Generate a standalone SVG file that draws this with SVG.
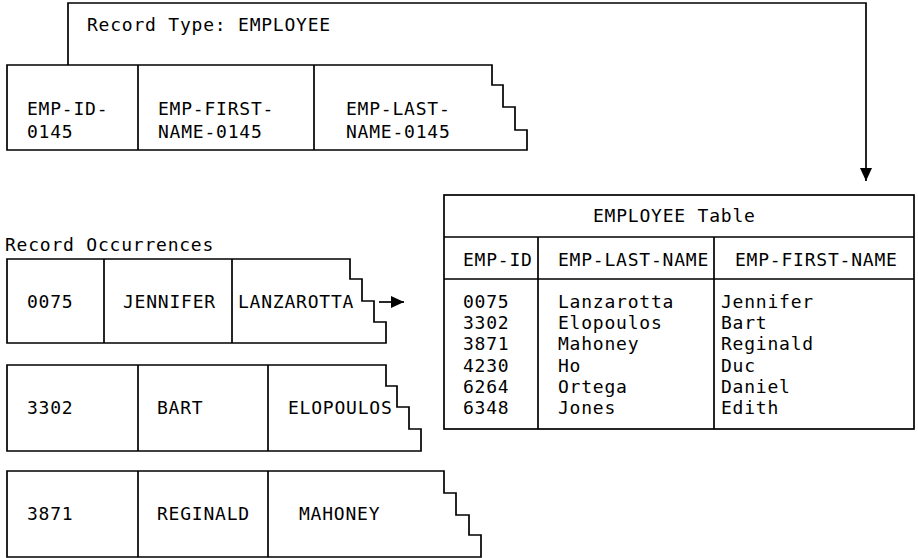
<svg xmlns="http://www.w3.org/2000/svg" width="918" height="558" viewBox="0 0 918 558">
<style>
text{font-family:"DejaVu Sans Mono","Liberation Mono",monospace;font-size:18px;letter-spacing:0.78px;fill:#000}
.ln{fill:none;stroke:#000;stroke-width:1.7;stroke-linejoin:miter}
.bx{fill:#fff;stroke:#000;stroke-width:1.7}
</style>
<defs>
<marker id="ah" markerUnits="userSpaceOnUse" markerWidth="13" markerHeight="12" refX="13" refY="6" orient="auto">
<path d="M0,0 L13,6 L0,12 Z" fill="#000"/>
</marker>
</defs>
<rect width="918" height="558" fill="#fff"/>

<g id="connectors">
<path class="ln" d="M68,65 V3 H866 V181" marker-end="url(#ah)"/>
<path class="ln" d="M379,302 H404" marker-end="url(#ah)"/>
</g>

<g id="record-type">
<text x="87" y="31">Record Type: EMPLOYEE</text>
<path class="ln" d="M7,65 H492 V85 H503 V107 H515 V130 H527 V150 H7 Z"/>
<path class="ln" d="M138,65 V150 M314,65 V150"/>
<text x="27" y="115">EMP-ID-</text>
<text x="27" y="138">0145</text>
<text x="158" y="115">EMP-FIRST-</text>
<text x="158" y="138">NAME-0145</text>
<text x="346" y="115">EMP-LAST-</text>
<text x="346" y="138">NAME-0145</text>
</g>

<g id="occurrences-label">
<text x="5" y="251">Record Occurrences</text>
</g>

<g id="occ-0075">
<path class="ln" d="M7,259 H350 V279 H362 V301 H374 V322 H386 V343 H7 Z"/>
<path class="ln" d="M104,259 V343 M232,259 V343"/>
<text x="27" y="308">0075</text>
<text x="123" y="308">JENNIFER</text>
<text x="238" y="308">LANZAROTTA</text>
</g>

<g id="occ-3302">
<path class="ln" d="M7,365 H386 V386 H397 V407 H409 V429 H421 V451 H7 Z"/>
<path class="ln" d="M138,365 V451 M268,365 V451"/>
<text x="27" y="414">3302</text>
<text x="157" y="414">BART</text>
<text x="288" y="414">ELOPOULOS</text>
</g>

<g id="occ-3871">
<path class="ln" d="M7,471 H444 V493 H456 V515 H469 V535 H481 V557 H7 Z"/>
<path class="ln" d="M138,471 V557 M268,471 V557"/>
<text x="27" y="520">3871</text>
<text x="157" y="520">REGINALD</text>
<text x="299" y="520">MAHONEY</text>
</g>

<g id="employee-table">
<rect class="bx" x="444" y="195" width="470" height="234"/>
<path class="ln" d="M444,237 H914 M444,279 H914 M538,237 V429 M714,237 V429"/>
<text x="593" y="222">EMPLOYEE Table</text>
<text x="463" y="266">EMP-ID</text>
<text x="558" y="266">EMP-LAST-NAME</text>
<text x="735" y="266">EMP-FIRST-NAME</text>
<text x="463" y="308">0075</text>
<text x="463" y="329.2">3302</text>
<text x="463" y="350.4">3871</text>
<text x="463" y="371.6">4230</text>
<text x="463" y="392.8">6264</text>
<text x="463" y="414">6348</text>
<text x="558" y="308">Lanzarotta</text>
<text x="558" y="329.2">Elopoulos</text>
<text x="558" y="350.4">Mahoney</text>
<text x="558" y="371.6">Ho</text>
<text x="558" y="392.8">Ortega</text>
<text x="558" y="414">Jones</text>
<text x="721" y="308">Jennifer</text>
<text x="721" y="329.2">Bart</text>
<text x="721" y="350.4">Reginald</text>
<text x="721" y="371.6">Duc</text>
<text x="721" y="392.8">Daniel</text>
<text x="721" y="414">Edith</text>
</g>
</svg>
